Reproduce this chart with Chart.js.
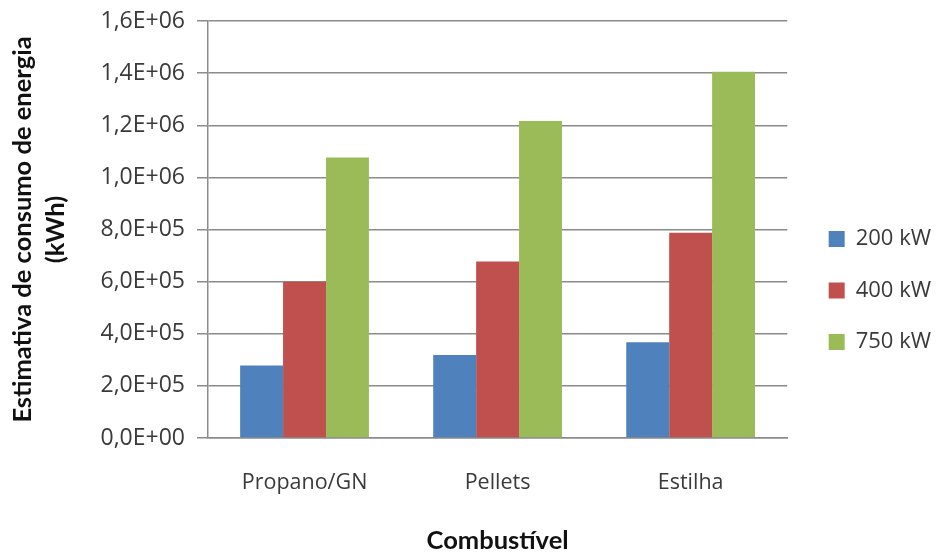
<!DOCTYPE html>
<html>
<head>
<meta charset="utf-8">
<script src="https://cdn.jsdelivr.net/npm/chart.js@4.4.1/dist/chart.umd.min.js"></script>
<style>
  html, body { margin: 0; padding: 0; background: #ffffff; }
  #wrap { width: 938px; height: 552px; }
</style>
</head>
<body>
<div id="wrap"><canvas id="chart" width="938" height="552"></canvas></div>
<script>
// Combustíveis e consumo estimado de energia (kWh) por potência da caldeira
const categories = ['Propano/GN', 'Pellets', 'Estilha'];
const seriesNames = ['200 kW', '400 kW', '750 kW'];
const consumo200 = [278000, 318000, 367000];
const consumo400 = [600000, 677000, 788000];
const consumo750 = [1076000, 1216000, 1405000];
const yTickLabels = ['0,0E+00', '2,0E+05', '4,0E+05', '6,0E+05', '8,0E+05',
                     '1,0E+06', '1,2E+06', '1,4E+06', '1,6E+06'];

const colors = ['#4F81BD', '#C0504D', '#9BBB59'];
const gridColor = '#8b8b8b';
const textColor = '#3a3a3a';
const bodyFont = '"Open Sans", Lato, sans-serif';
const titleFont = 'Lato, "Open Sans", sans-serif';

// Leaves a small gap between the plot and the legend column
const legendOffset = {
  id: 'legendOffset',
  afterLayout(chart) {
    const lg = chart.legend;
    if (!lg) return;
    lg.left += 12; lg.right += 12;
    lg.top += 4; lg.bottom += 4;
  }
};

function build() {
  Chart.defaults.font.family = bodyFont;
  Chart.defaults.color = textColor;

  new Chart(document.getElementById('chart'), {
    type: 'bar',
    data: {
      labels: categories,
      datasets: [consumo200, consumo400, consumo750].map((vals, i) => ({
        label: seriesNames[i],
        data: vals,
        backgroundColor: colors[i],
        borderWidth: 0,
        categoryPercentage: 0.667,
        barPercentage: 1.0
      }))
    },
    plugins: [legendOffset],
    options: {
      responsive: false,
      animation: false,
      layout: { padding: { top: 21, right: 9, bottom: 0, left: 0 } },
      plugins: {
        tooltip: { enabled: false },
        legend: {
          position: 'right',
          align: 'center',
          maxWidth: 150,
          labels: {
            boxWidth: 16,
            boxHeight: 16,
            padding: 29.5,
            color: textColor,
            font: { size: 22 }
          }
        }
      },
      scales: {
        x: {
          grid: { display: false, drawTicks: false },
          border: { display: true, color: gridColor, width: 1.5 },
          ticks: { padding: 32, color: textColor, font: { size: 21.5 } },
          title: {
            display: true,
            text: 'Combustível',
            color: '#111111',
            font: { family: titleFont, size: 25.5, weight: 'bold', lineHeight: 0.85 },
            padding: { top: 0, bottom: 0 }
          },
          afterFit(scale) { scale.height = 114; }
        },
        y: {
          min: 0,
          max: 1600000,
          grid: { color: gridColor, lineWidth: 1.5, drawTicks: true, tickLength: 11 },
          border: { display: true, color: gridColor, width: 1.5 },
          ticks: {
            stepSize: 200000,
            padding: 12,
            color: textColor,
            font: { size: 23, lineHeight: 0.7 },
            callback: (value, index) => yTickLabels[index]
          },
          title: {
            display: true,
            text: ['Estimativa de consumo de energia', '(kWh)'],
            color: '#111111',
            font: { family: titleFont, size: 25.5, weight: 'bold', lineHeight: 1.3 },
            padding: { top: 6.5, bottom: 0 }
          },
          afterFit(scale) { scale.width = 208; }
        }
      }
    }
  });
}

if (document.fonts && document.fonts.load) {
  Promise.all([
    document.fonts.load('21px "Open Sans"'),
    document.fonts.load('bold 25px Lato')
  ]).then(build, build);
} else {
  build();
}
</script>
</body>
</html>
